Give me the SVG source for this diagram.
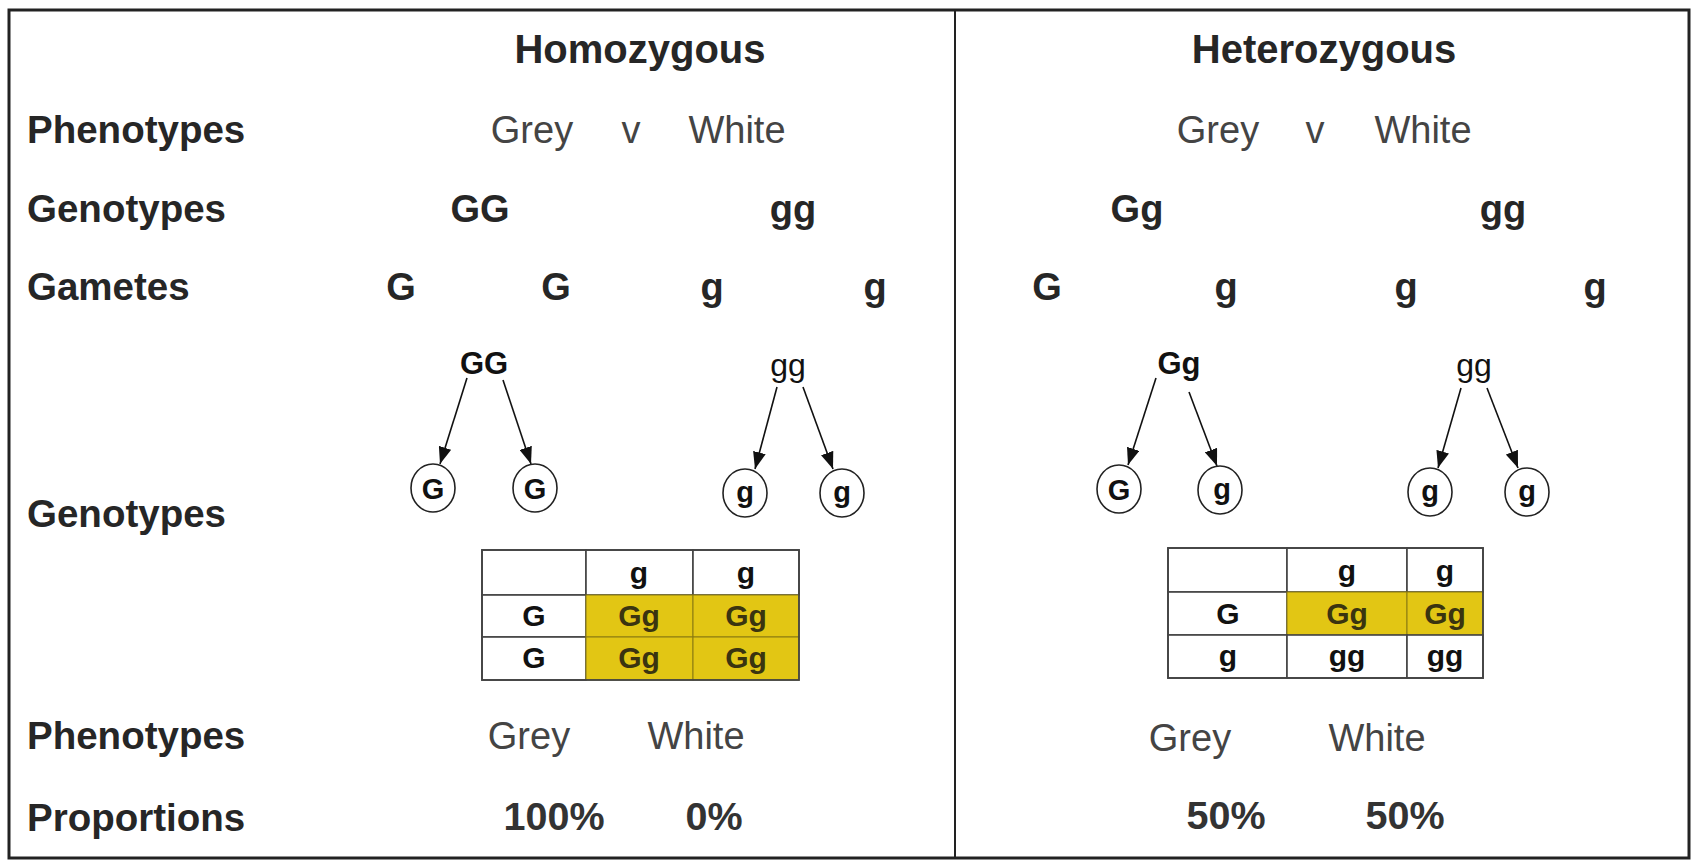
<svg xmlns="http://www.w3.org/2000/svg" width="1696" height="861" viewBox="0 0 1696 861">
<style>
text{font-family:"Liberation Sans",Arial,sans-serif;}
.lbl{font-size:38.5px;font-weight:bold;fill:#262626;}
.ttl{font-size:40px;font-weight:bold;fill:#262626;text-anchor:middle;}
.ph{font-size:38px;fill:#444;text-anchor:middle;}
.gt{font-size:38px;font-weight:bold;fill:#262626;text-anchor:middle;}
.pc{font-size:39.5px;font-weight:bold;fill:#333;text-anchor:middle;}
.tr{font-size:31px;font-weight:bold;fill:#111;text-anchor:middle;}
.trn{font-size:32px;fill:#111;text-anchor:middle;}
.cl{font-size:29px;font-weight:bold;fill:#111;text-anchor:middle;}
.circ{fill:#fff;stroke:#222;stroke-width:1.6;}
.tb{font-size:30px;font-weight:bold;fill:#111;text-anchor:middle;}
.tby{font-size:30px;font-weight:bold;fill:#3a3410;text-anchor:middle;}
.cell{fill:#fff;stroke:#444;stroke-width:1.6;}
.ycell{fill:#e2c614;stroke:#8a7a10;stroke-width:1;}
.arr{stroke:#111;stroke-width:1.6;fill:none;marker-end:url(#ah);}
</style>
<defs>
<marker id="ah" viewBox="0 0 17 13" markerWidth="17" markerHeight="13" refX="17" refY="6.5" orient="auto" markerUnits="userSpaceOnUse">
<path d="M0,0 L17,6.5 L0,13 z" fill="#111"/>
</marker>
</defs>
<rect x="0" y="0" width="1696" height="861" fill="#fff"/>
<g id="frame">
<rect x="9" y="10" width="1680" height="848" fill="none" stroke="#222" stroke-width="3"/>
<line x1="955" y1="10" x2="955" y2="858" stroke="#222" stroke-width="2"/>
</g>
<g id="row-labels">
<text class="lbl" x="27" y="143">Phenotypes</text>
<text class="lbl" x="27" y="222">Genotypes</text>
<text class="lbl" x="27" y="300">Gametes</text>
<text class="lbl" x="27" y="527">Genotypes</text>
<text class="lbl" x="27" y="749">Phenotypes</text>
<text class="lbl" x="27" y="831">Proportions</text>
</g>
<g id="homozygous">
<text class="ttl" x="640" y="63">Homozygous</text>
<text class="ph" x="532" y="143">Grey</text>
<text class="ph" x="631" y="143">v</text>
<text class="ph" x="737" y="143">White</text>
<text class="gt" x="480" y="222">GG</text>
<text class="gt" x="793" y="222">gg</text>
<text class="gt" x="401" y="300">G</text>
<text class="gt" x="556" y="300">G</text>
<text class="gt" x="712" y="300">g</text>
<text class="gt" x="875" y="300">g</text>
<text class="ph" x="529" y="749">Grey</text>
<text class="ph" x="696" y="749">White</text>
<text class="pc" x="554" y="830">100%</text>
<text class="pc" x="714" y="830">0%</text>
</g>
<g id="heterozygous">
<text class="ttl" x="1324" y="63">Heterozygous</text>
<text class="ph" x="1218" y="143">Grey</text>
<text class="ph" x="1315" y="143">v</text>
<text class="ph" x="1423" y="143">White</text>
<text class="gt" x="1137" y="222">Gg</text>
<text class="gt" x="1503" y="222">gg</text>
<text class="gt" x="1047" y="300">G</text>
<text class="gt" x="1226" y="300">g</text>
<text class="gt" x="1406" y="300">g</text>
<text class="gt" x="1595" y="300">g</text>
<text class="ph" x="1190" y="751">Grey</text>
<text class="ph" x="1377" y="751">White</text>
<text class="pc" x="1226" y="829">50%</text>
<text class="pc" x="1405" y="829">50%</text>
</g>
<g id="connectors">
<line class="arr" x1="467" y1="378" x2="440" y2="464"/>
<line class="arr" x1="503" y1="380" x2="531" y2="464"/>
<line class="arr" x1="777" y1="387" x2="755" y2="469"/>
<line class="arr" x1="803" y1="387" x2="833" y2="469"/>
<line class="arr" x1="1156" y1="378" x2="1128" y2="465"/>
<line class="arr" x1="1189" y1="392" x2="1217" y2="466"/>
<line class="arr" x1="1461" y1="388" x2="1438" y2="468"/>
<line class="arr" x1="1487" y1="388" x2="1518" y2="468"/>
</g>
<g id="tree-GG">
<text class="tr" x="484" y="374">GG</text>
<ellipse class="circ" cx="433" cy="488" rx="22" ry="24"/>
<text class="cl" x="433" y="499">G</text>
<ellipse class="circ" cx="535" cy="488" rx="22" ry="24"/>
<text class="cl" x="535" y="499">G</text>
</g>
<g id="tree-gg-left">
<text class="trn" x="788" y="376">gg</text>
<ellipse class="circ" cx="745" cy="493" rx="22" ry="24"/>
<text class="cl" x="745" y="502">g</text>
<ellipse class="circ" cx="842" cy="493" rx="22" ry="24"/>
<text class="cl" x="842" y="502">g</text>
</g>
<g id="tree-Gg">
<text class="tr" x="1179" y="374">Gg</text>
<ellipse class="circ" cx="1119" cy="489" rx="22" ry="24"/>
<text class="cl" x="1119" y="500">G</text>
<ellipse class="circ" cx="1220" cy="490" rx="22" ry="24"/>
<text class="cl" x="1222" y="499">g</text>
</g>
<g id="tree-gg-right">
<text class="trn" x="1474" y="376">gg</text>
<ellipse class="circ" cx="1430" cy="492" rx="22" ry="24"/>
<text class="cl" x="1430" y="501">g</text>
<ellipse class="circ" cx="1527" cy="492" rx="22" ry="24"/>
<text class="cl" x="1527" y="501">g</text>
</g>
<g id="punnett-left">
<rect class="cell" x="482" y="550" width="104" height="45"/>
<rect class="cell" x="586" y="550" width="107" height="45"/>
<rect class="cell" x="693" y="550" width="106" height="45"/>
<rect class="cell" x="482" y="595" width="104" height="42"/>
<rect class="cell" x="482" y="637" width="104" height="43"/>
<rect class="ycell" x="586" y="595" width="107" height="42"/>
<rect class="ycell" x="693" y="595" width="106" height="42"/>
<rect class="ycell" x="586" y="637" width="107" height="43"/>
<rect class="ycell" x="693" y="637" width="106" height="43"/>
<rect x="482" y="550" width="317" height="130" fill="none" stroke="#444" stroke-width="1.8"/>
<text class="tb" x="639" y="583">g</text>
<text class="tb" x="746" y="583">g</text>
<text class="tb" x="534" y="626">G</text>
<text class="tb" x="534" y="668">G</text>
<text class="tby" x="639" y="626">Gg</text>
<text class="tby" x="746" y="626">Gg</text>
<text class="tby" x="639" y="668">Gg</text>
<text class="tby" x="746" y="668">Gg</text>
</g>
<g id="punnett-right">
<rect class="cell" x="1168" y="548" width="119" height="44"/>
<rect class="cell" x="1287" y="548" width="120" height="44"/>
<rect class="cell" x="1407" y="548" width="76" height="44"/>
<rect class="cell" x="1168" y="592" width="119" height="43"/>
<rect class="ycell" x="1287" y="592" width="120" height="43"/>
<rect class="ycell" x="1407" y="592" width="76" height="43"/>
<rect class="cell" x="1168" y="635" width="119" height="43"/>
<rect class="cell" x="1287" y="635" width="120" height="43"/>
<rect class="cell" x="1407" y="635" width="76" height="43"/>
<rect x="1168" y="548" width="315" height="130" fill="none" stroke="#444" stroke-width="1.8"/>
<text class="tb" x="1347" y="581">g</text>
<text class="tb" x="1445" y="581">g</text>
<text class="tb" x="1228" y="624">G</text>
<text class="tby" x="1347" y="624">Gg</text>
<text class="tby" x="1445" y="624">Gg</text>
<text class="tb" x="1228" y="666">g</text>
<text class="tb" x="1347" y="666">gg</text>
<text class="tb" x="1445" y="666">gg</text>
</g>
</svg>
